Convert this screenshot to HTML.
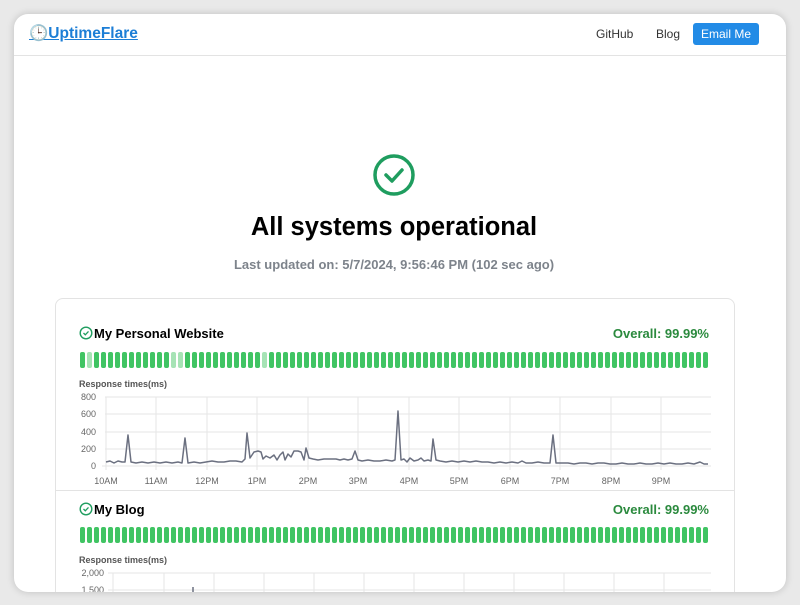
<!DOCTYPE html>
<html><head><style>
*{margin:0;padding:0;box-sizing:border-box}
body{width:800px;height:605px;background:#e9e9e9;font-family:"Liberation Sans",sans-serif;position:relative;overflow:hidden}
.win{position:absolute;left:14px;top:14px;width:772px;height:578px;background:#fff;border-radius:14px;box-shadow:0 0 8px rgba(0,0,0,.18);overflow:hidden}
.abs{position:absolute}
.bars{position:absolute;left:66px;display:flex;gap:2px}
.bars div{width:5px;height:16px;border-radius:2px;background:#40c463}
.bars div.l{background:#a6e3b5}
</style></head><body>
<div class="win">
 <div class="abs" style="left:0;top:41px;width:772px;height:1px;background:#e3e3e3"></div>
 <div class="abs" style="left:15px;top:10px;font-size:15.5px;font-weight:bold;color:#1c7ed6;text-decoration:underline">🕒UptimeFlare</div>
 <div class="abs" style="left:582px;top:13px;font-size:12px;color:#333">GitHub</div>
 <div class="abs" style="left:642px;top:13px;font-size:12px;color:#333">Blog</div>
 <div class="abs" style="left:679px;top:9px;width:66px;height:22px;background:#228be6;border-radius:3px;color:#fff;font-size:12px;text-align:center;line-height:22px">Email Me</div>
 <svg class="abs" style="left:358px;top:139px" width="44" height="44"><circle cx="22" cy="22" r="19" fill="none" stroke="#1f9d5f" stroke-width="3.5"/><path d="M14 22 l6 6 l10 -11" fill="none" stroke="#1f9d5f" stroke-width="3.5" stroke-linecap="round" stroke-linejoin="round"/></svg>
 <div class="abs" style="left:0;width:760px;top:199px;text-align:center;font-size:25.5px;font-weight:bold;color:#000">All systems operational</div>
 <div class="abs" style="left:0;width:760px;top:243px;text-align:center;font-size:13px;font-weight:bold;color:#7d838b">Last updated on: 5/7/2024, 9:56:46 PM (102 sec ago)</div>
 <div class="abs" style="left:41px;top:284px;width:680px;height:320px;border:1px solid #e3e3e3;border-radius:8px"></div>
 <div class="abs" style="left:41px;top:476px;width:680px;height:1px;background:#e3e3e3"></div>
 <svg class="abs" style="left:65px;top:312px" width="14" height="14"><circle cx="7" cy="7" r="5.8" fill="none" stroke="#1f9d5f" stroke-width="1.4"/><path d="M4.5 7 l1.8 1.8 l3.2 -3.4" fill="none" stroke="#1f9d5f" stroke-width="1.3"/></svg>
 <div class="abs" style="left:80px;top:312px;font-size:13px;font-weight:bold;color:#000">My Personal Website</div>
 <div class="abs" style="right:77px;top:312px;font-size:13px;font-weight:bold;color:#2b8a3e">Overall: 99.99%</div>
 <div class="bars" id="b1" style="top:338px"></div>
 <div class="abs" style="left:65px;top:365px;font-size:9px;font-weight:bold;color:#555">Response times(ms)</div>
 <svg class="abs" style="left:0;top:0" width="772" height="480">
  <g font-size="9" fill="#666" text-anchor="end" font-family="Liberation Sans,sans-serif">
   <text x="82" y="386">800</text><text x="82" y="403">600</text><text x="82" y="421">400</text><text x="82" y="438">200</text><text x="82" y="455">0</text>
  </g>
  <g stroke="#e6e6e6" stroke-width="1">
   <line x1="91" y1="383" x2="697" y2="383"/><line x1="91" y1="400" x2="697" y2="400"/><line x1="91" y1="418" x2="697" y2="418"/><line x1="91" y1="435" x2="697" y2="435"/><line x1="88" y1="452" x2="697" y2="452"/>
   <line x1="92" y1="383" x2="92" y2="456"/><line x1="142" y1="383" x2="142" y2="456"/><line x1="193" y1="383" x2="193" y2="456"/><line x1="243" y1="383" x2="243" y2="456"/><line x1="294" y1="383" x2="294" y2="456"/><line x1="344" y1="383" x2="344" y2="456"/><line x1="395" y1="383" x2="395" y2="456"/><line x1="445" y1="383" x2="445" y2="456"/><line x1="496" y1="383" x2="496" y2="456"/><line x1="546" y1="383" x2="546" y2="456"/><line x1="597" y1="383" x2="597" y2="456"/><line x1="647" y1="383" x2="647" y2="456"/>
  </g>
  <g font-size="9" fill="#666" text-anchor="middle" font-family="Liberation Sans,sans-serif">
   <text x="92" y="470">10AM</text><text x="142" y="470">11AM</text><text x="193" y="470">12PM</text><text x="243" y="470">1PM</text><text x="294" y="470">2PM</text><text x="344" y="470">3PM</text><text x="395" y="470">4PM</text><text x="445" y="470">5PM</text><text x="496" y="470">6PM</text><text x="546" y="470">7PM</text><text x="597" y="470">8PM</text><text x="647" y="470">9PM</text>
  </g>
  <polyline transform="translate(-14,-14)" fill="none" stroke="#6b7080" stroke-width="1.5" stroke-linejoin="round" points="106,462 110,461 114,463 118,461 122,462 125,462 128,435 131,462 136,463 142,462 148,463 154,462 160,463 166,462 172,463 178,462 182,463 185,438 188,463 194,462 200,463 206,462 212,461 218,462 224,462 230,461 236,461 242,462 245,459 247,433 250,458 254,452 258,451 261,452 263,459 266,456 270,458 274,455 277,460 280,455 283,452 285,460 288,454 291,457 294,451 298,451 301,452 304,460 306,448 309,458 313,459 318,460 324,459 330,459 336,459 340,460 344,459 348,460 352,459 355,451 358,460 362,461 368,460 374,461 380,461 386,460 392,461 395,460 398,411 401,460 404,459 407,462 410,458 414,461 418,460 421,458 424,461 428,460 431,461 433,439 436,460 440,461 446,462 452,461 458,462 464,461 470,462 476,461 482,462 488,462 494,463 500,462 506,463 512,462 518,463 522,461 526,463 532,463 538,462 544,463 550,463 553,435 556,463 562,463 568,463 574,464 580,463 586,463 592,464 598,463 604,463 610,464 616,464 622,463 628,464 634,464 640,463 646,464 652,464 658,463 664,464 670,463 676,464 682,464 688,463 694,464 700,462 704,464 708,464"/>
 </svg>
 <svg class="abs" style="left:65px;top:488px" width="14" height="14"><circle cx="7" cy="7" r="5.8" fill="none" stroke="#1f9d5f" stroke-width="1.4"/><path d="M4.5 7 l1.8 1.8 l3.2 -3.4" fill="none" stroke="#1f9d5f" stroke-width="1.3"/></svg>
 <div class="abs" style="left:80px;top:488px;font-size:13px;font-weight:bold;color:#000">My Blog</div>
 <div class="abs" style="right:77px;top:488px;font-size:13px;font-weight:bold;color:#2b8a3e">Overall: 99.99%</div>
 <div class="bars" id="b2" style="top:513px"></div>
 <div class="abs" style="left:65px;top:541px;font-size:9px;font-weight:bold;color:#555">Response times(ms)</div>
 <svg class="abs" style="left:0;top:550px" width="772" height="30">
  <g font-size="9" fill="#666" text-anchor="end" font-family="Liberation Sans,sans-serif"><text x="90" y="12">2,000</text><text x="90" y="29">1,500</text></g>
  <line x1="94" y1="9" x2="697" y2="9" stroke="#e6e6e6"/>
  <line x1="94" y1="26" x2="697" y2="26" stroke="#e6e6e6"/>
  <g stroke="#e6e6e6"><line x1="99" y1="9" x2="99" y2="30"/><line x1="150" y1="9" x2="150" y2="30"/><line x1="200" y1="9" x2="200" y2="30"/><line x1="250" y1="9" x2="250" y2="30"/><line x1="300" y1="9" x2="300" y2="30"/><line x1="350" y1="9" x2="350" y2="30"/><line x1="400" y1="9" x2="400" y2="30"/><line x1="450" y1="9" x2="450" y2="30"/><line x1="500" y1="9" x2="500" y2="30"/><line x1="550" y1="9" x2="550" y2="30"/><line x1="600" y1="9" x2="600" y2="30"/><line x1="650" y1="9" x2="650" y2="30"/></g>
  <line x1="179" y1="23" x2="179" y2="30" stroke="#6b7080" stroke-width="1.5"/>
 </svg>
</div>
<script>
var light={1:1,13:1,14:1,26:1};
['b1','b2'].forEach(function(id,k){var e=document.getElementById(id),h='';for(var i=0;i<90;i++)h+='<div'+(k==0&&light[i]?' class="l"':'')+'></div>';e.innerHTML=h;});
</script>
</body></html>
